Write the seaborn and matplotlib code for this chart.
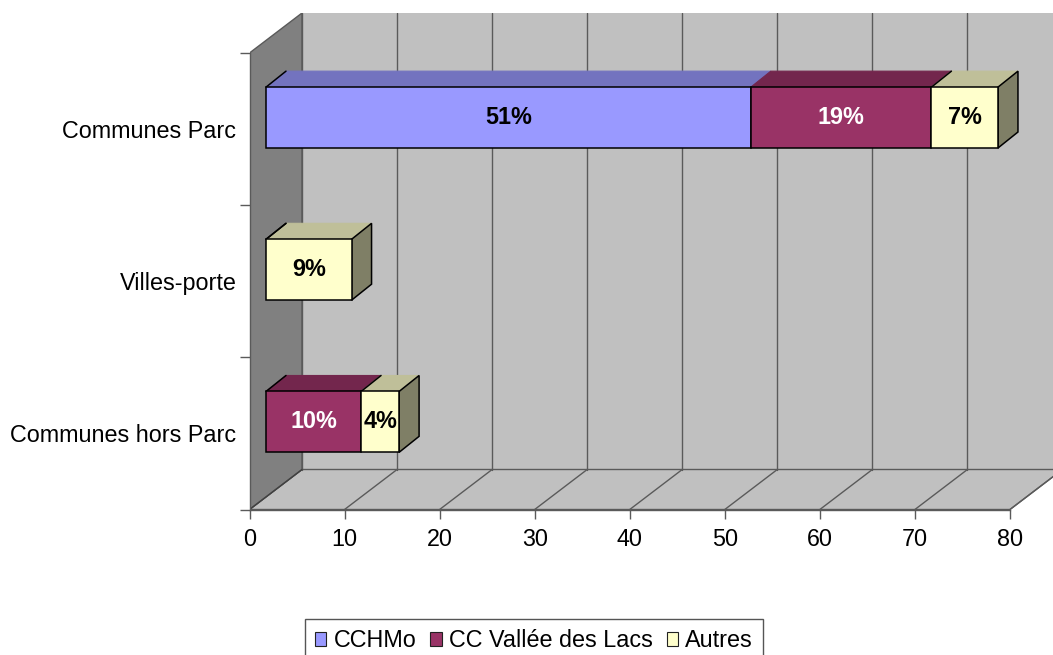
import matplotlib
matplotlib.use("Agg")
import matplotlib.pyplot as plt
import pandas as pd
import seaborn as sns
from matplotlib.patches import Polygon, Patch
from matplotlib.transforms import Affine2D

categories = ["Communes Parc", "Villes-porte", "Communes hors Parc"]
series_names = ["CCHMo", "CC Vallée des Lacs", "Autres"]
cchmo = [51, 0, 0]
cc_vallee = [19, 0, 10]
autres = [7, 9, 4]
x_ticks = [0, 10, 20, 30, 40, 50, 60, 70, 80]

front_colors = ["#9999FF", "#993366", "#FFFFCC"]
top_colors = ["#7373BF", "#73264D", "#BFBF99"]
side_colors = ["#4C4C7F", "#4C1933", "#7F7F66"]
label_colors = ["black", "white", "black"]

W, H = 1053, 655
sns.set_theme(style="white")
plt.rcParams["font.family"] = ["Liberation Sans", "DejaVu Sans"]
FS = 16.8

fig = plt.figure(figsize=(W / 100, H / 100), dpi=100, facecolor="white")
L, R, T, B = 249.5, 1053, 13, 509.5
ax = fig.add_axes([L / W, 1 - B / H, (R - L) / W, (B - T) / H])

px_x = 95.06 / 10          # pixels per value unit
px_y = (B - 53) / 3        # pixels per category band
ax.set_facecolor("white")

# bar offset inside the 3-D box
base = ax.transData + Affine2D().translate(16.5, 11.5)
depth_x, depth_y = 20 / px_x, 16 / px_y

left = [0.0] * 3
last = {}
for name, vals, fc, tc, lc in zip(series_names, [cchmo, cc_vallee, autres],
                                  front_colors, top_colors, label_colors):
    df = pd.DataFrame({"cat": categories, "val": vals, "left": left})
    df = df[df["val"] > 0]
    sns.barplot(data=df, y="cat", x="val", order=categories, orient="y", width=0.4,
                color=fc, saturation=1, errorbar=None, left=df["left"].to_numpy(),
                edgecolor="black", linewidth=1.1, zorder=6, transform=base, ax=ax)
    for c, v, l in zip(df["cat"], df["val"], df["left"]):
        y = categories.index(c)
        yt = y - 0.2
        ax.add_patch(Polygon([(l, yt), (l + v, yt), (l + v + depth_x, yt - depth_y),
                              (l + depth_x, yt - depth_y)], closed=True, facecolor=tc,
                             edgecolor=tc, linewidth=0.8, transform=base, zorder=4))
        ax.text(l + v / 2, y, f"{v}%", ha="center", va="center", color=lc,
                fontsize=FS, fontweight="bold", transform=base, zorder=8)
        last[y] = max(last.get(y, 0), l + v)
    left = [a + b for a, b in zip(left, vals)]

# right side faces and slanted edges
for y, end in last.items():
    yt, yb = y - 0.2, y + 0.2
    ax.add_patch(Polygon([(end, yt), (end + depth_x, yt - depth_y), (end + depth_x, yb - depth_y),
                          (end, yb)], closed=True, facecolor=side_colors[2], edgecolor="black",
                         linewidth=1.1, transform=base, zorder=5))
    ax.plot([0, depth_x], [yt, yt - depth_y], color="black", lw=1.1, transform=base, zorder=5)
    ax.plot([end - autres[y], end - autres[y] + depth_x], [yt, yt - depth_y], color="black",
            lw=1.1, transform=base, zorder=5)

# 3-D box: walls, floor and gridlines
ydep_x, ydep_y = 52.5 / px_x, 40 / px_y
wall_c, side_c, line_c = "#C0C0C0", "#808080", "#5A5A5A"
y0, y1 = -0.5, 2.5
x_end = x_ticks[-1]
ax.add_patch(Polygon([(ydep_x, y0 - ydep_y), (x_end + ydep_x, y0 - ydep_y), (x_end + ydep_x, y1 - ydep_y),
                      (ydep_x, y1 - ydep_y)], closed=True, facecolor=wall_c, edgecolor=wall_c, zorder=0))
ax.add_patch(Polygon([(0, y1), (ydep_x, y1 - ydep_y), (x_end + ydep_x, y1 - ydep_y), (x_end, y1)],
                     closed=True, facecolor=wall_c, edgecolor=line_c, linewidth=1, zorder=1))
ax.add_patch(Polygon([(0, y0), (ydep_x, y0 - ydep_y), (ydep_x, y1 - ydep_y), (0, y1)],
                     closed=True, facecolor=side_c, edgecolor=line_c, linewidth=1, zorder=1))
for t in x_ticks:
    ax.plot([t + ydep_x] * 2, [y0 - ydep_y, y1 - ydep_y], color=line_c, lw=1, zorder=2)
    ax.plot([t, t + ydep_x], [y1, y1 - ydep_y], color=line_c if t else "#404040", lw=1, zorder=2)

ax.set_xlim(0, (R - L) / px_x)
ax.set_ylim(y1, y0 - ydep_y)
ax.set_xlabel("")
ax.set_ylabel("")
sns.despine(ax=ax, top=True, right=True, left=False, bottom=False)
ax.spines["bottom"].set_bounds(0, x_end)
ax.spines["left"].set_bounds(y0, y1)
for s in ("bottom", "left"):
    ax.spines[s].set_color(line_c)
    ax.spines[s].set_linewidth(1)
    ax.spines[s].set_zorder(3)

ax.set_xticks(x_ticks)
ax.set_yticks(range(3), categories)
ax.set_yticks([-0.5, 0.5, 1.5, 2.5], minor=True)
ax.tick_params(axis="x", which="major", bottom=True, length=6.5, width=1, color=line_c,
               pad=6.5, labelsize=FS, labelcolor="black")
ax.tick_params(axis="y", which="major", left=False, length=0, pad=9.5, labelsize=FS, labelcolor="black")
ax.tick_params(axis="y", which="minor", left=True, length=7, width=1, color=line_c)

# legend, cut by the lower edge like the reference
handles = [Patch(facecolor=c, edgecolor="#222222", linewidth=0.8) for c in front_colors]
leg = fig.legend(handles, series_names, ncol=3, loc="lower center",
                 bbox_to_anchor=(534 / W, 1 - 662 / H), bbox_transform=fig.transFigure,
                 fontsize=FS, frameon=True, fancybox=False, framealpha=1, edgecolor="#555555",
                 handlelength=0.5, handleheight=0.5, handletextpad=0.3, columnspacing=0.6,
                 borderpad=0.42, borderaxespad=0)
leg.get_frame().set_linewidth(1)
for t in leg.get_texts():
    t.set_color("black")

fig.savefig("out.png", dpi=100, facecolor="white")
